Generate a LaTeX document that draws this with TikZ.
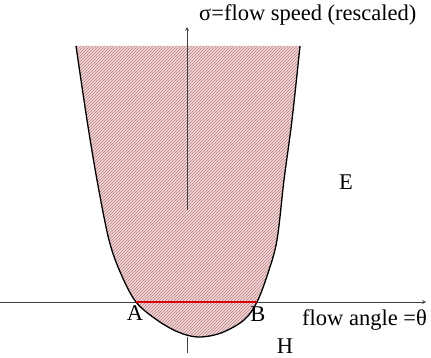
\documentclass[tikz,border=0pt]{standalone}
\usepackage{fontspec}
\setmainfont{Liberation Serif}
\usetikzlibrary{patterns, arrows}
\definecolor{regionpink}{RGB}{246,214,214}
\definecolor{hatchred}{RGB}{178,132,138}
\tikzstyle{axis} = [
    draw=black!75,
    line width=0.7pt
]
\tikzstyle{arrow} = [axis, ->, >=stealth]
\tikzstyle{boundary} = [
    draw=black,
    line width=1.3pt
]
\tikzstyle{chord} = [draw=red!85!black, line width=1.2pt]
\tikzstyle{lbl} = [inner sep=0pt, font=\fontsize{22.5}{26}\selectfont]

\begin{document}
\begin{tikzpicture}[x=1pt, y=-1pt]
\useasboundingbox (0,0) rectangle (431,358);

% axes
\coordinate (xstart) at (0,302);
\coordinate (xend) at (426,302);
\coordinate (ytop) at (187,27);
\coordinate (ymid) at (187,210);
\coordinate (ylow) at (187,337);
\coordinate (ybot) at (187,353);

\draw [arrow] (xstart) -- (xend);

% allowed region
\def\regionpath{(76,46) (87,120) (97,180) (109,240) (121,274) (136,302)
  (157,320) (178,332) (198,337) (221,333) (244,320) (257,302)
  (268,273) (277,240) (284,180) (292,120) (300,46)}
\fill [regionpink] plot [smooth, tension=0.55] coordinates {\regionpath} -- cycle;
\fill [pattern=north east lines, pattern color=hatchred]
  plot [smooth, tension=0.55] coordinates {\regionpath} -- cycle;
\draw [boundary] plot [smooth, tension=0.55] coordinates {\regionpath};

\coordinate (A) at (136,302);
\coordinate (B) at (257,302);
\draw [chord] (A) -- (B);

\draw [arrow] (ymid) -- (ytop);
\draw [axis] (ylow) -- (ybot);

% labels
\node (sigma) [lbl, anchor=base west] at (199,21) {σ=flow speed (rescaled)};
\node (theta) [lbl, anchor=base west] at (302,325) {flow angle =θ};
\node (labA) [lbl, anchor=base] at (135,320) {A};
\node (labB) [lbl, anchor=base] at (258,321) {B};
\node (labE) [lbl, anchor=base] at (346,190) {E};
\node (labH) [lbl, anchor=base] at (285,353) {H};

\end{tikzpicture}
\end{document}
